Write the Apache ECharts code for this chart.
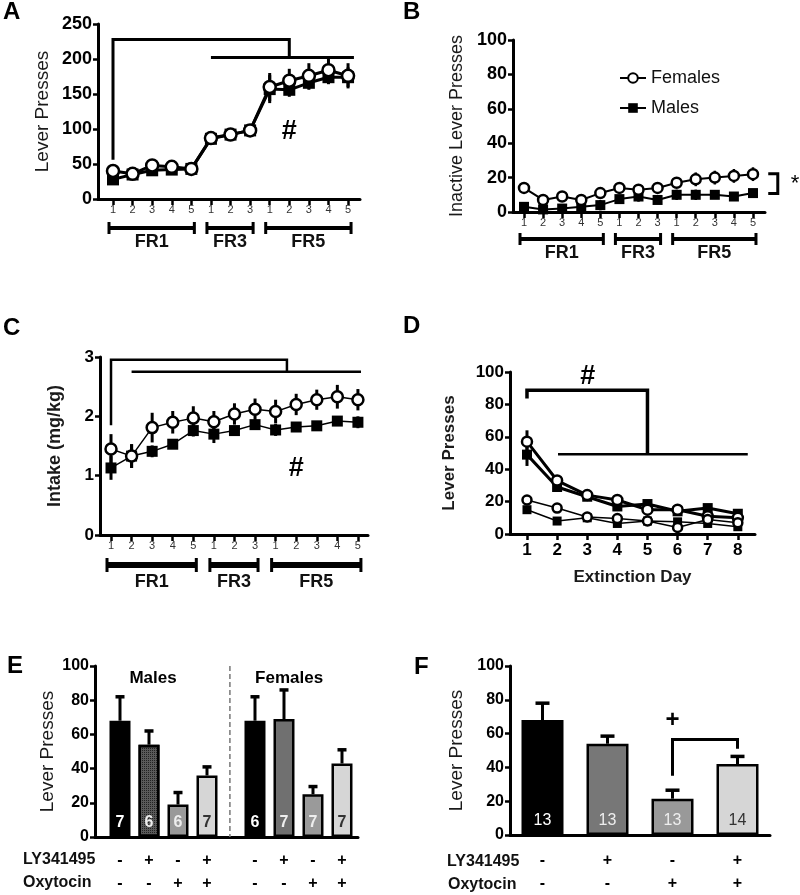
<!DOCTYPE html>
<html>
<head>
<meta charset="utf-8">
<script src="https://cdn.jsdelivr.net/npm/echarts@6/dist/echarts.min.js"></script>
<style>
html, body { margin: 0; padding: 0; background: #fff; }
#main { width: 800px; height: 895px; }
</style>
</head>
<body>
<div id="main"></div>
<script>
var FONT = 'Arial, "Liberation Sans", Helvetica, sans-serif';
var BLACK = '#000';

// sessions of self-administration (A, B, C)
var sessionLabels = ['1', '2', '3', '4', '5', '1', '2', '3', '1', '2', '3', '4', '5'];
var sessions = sessionLabels.map(function (l, i) { return i + 1; });
var schedules = ['FR1', 'FR3', 'FR5'];
var scheduleFrom = [1, 6, 9];
var scheduleTo = [5, 8, 13];

// A: active lever presses
var aFemales = [40, 36, 48, 46, 43, 87, 92, 98, 160, 169, 176, 184, 176];
var aFemalesErr = [6, 4, 9, 5, 4, 8, 7, 8, 20, 17, 18, 16, 18];
var aMales = [28, 35, 41, 42, 43, 86, 92, 98, 157, 156, 166, 174, 174];
var aMalesErr = [5, 4, 5, 5, 4, 8, 7, 8, 20, 10, 10, 10, 14];

// B: inactive lever presses
var bFemales = [14, 7, 9, 7, 11, 14, 13, 14, 17, 19, 20, 21, 22];
var bFemalesErr = [2, 2, 3, 2, 2, 3, 3, 3, 3, 4, 4, 4, 4];
var bMales = [3, 1.5, 2, 3, 4, 7.5, 9, 7, 10, 10, 10, 9, 11];
var bMalesErr = [2, 1.5, 1.5, 2, 3, 2, 3, 2, 3, 3, 2, 2, 2];

// C: intake (mg/kg)
var cFemales = [1.45, 1.33, 1.81, 1.90, 1.97, 1.91, 2.04, 2.12, 2.08, 2.20, 2.28, 2.33, 2.28];
var cFemalesErr = [0.25, 0.2, 0.25, 0.19, 0.2, 0.18, 0.18, 0.18, 0.2, 0.18, 0.17, 0.2, 0.18];
var cMales = [1.13, 1.33, 1.41, 1.53, 1.76, 1.70, 1.76, 1.86, 1.77, 1.82, 1.84, 1.92, 1.90];
var cMalesErr = [0.2, 0.2, 0.1, 0.08, 0.1, 0.15, 0.08, 0.08, 0.1, 0.06, 0.06, 0.08, 0.1];

// D: extinction
var days = [1, 2, 3, 4, 5, 6, 7, 8];
var dFemalesActive = [57, 33, 24, 21, 15, 15, 11, 10];
var dFemalesActiveErr = [7, 3, 2, 2, 2, 2, 2, 2];
var dMalesActive = [49, 29, 23, 17, 18.5, 14, 16, 12.5];
var dMalesActiveErr = [7, 3, 2, 2, 2, 2, 2, 2];
var dFemalesInactive = [21, 16, 10.5, 9.5, 8, 4, 9, 7];
var dFemalesInactiveErr = [2, 2, 1.5, 1.5, 1, 1, 1.5, 1];
var dMalesInactive = [15, 8, 10, 6.5, 8, 7.5, 6.5, 4.5];
var dMalesInactiveErr = [2, 1, 1.5, 1, 1, 1, 1, 1];

// E: reinstatement by sex
var lyRow = ['-', '+', '-', '+'];
var oxyRow = ['-', '-', '+', '+'];
var eMalesMean = [68, 54, 19, 36];
var eMalesErr = [14, 8, 7, 5];
var eMalesN = [7, 6, 6, 7];
var eFemalesMean = [68, 69, 25, 43];
var eFemalesErr = [14, 17, 4.5, 8];
var eFemalesN = [6, 7, 7, 7];

// F: reinstatement, sexes pooled
var fConditions = ['Vehicle', 'LY341495', 'Oxytocin', 'LY341495 + Oxytocin'];
var fMean = [68, 54, 21.5, 42];
var fErr = [10, 4.5, 5, 4.5];
var fN = [13, 13, 13, 14];

// annotations in data units
var aBrackets = [[[1, 56], [1, 228], [10, 228], [10, 202]], [[6, 202], [13.3, 202]]];
var aTexts = [[10, 96, '#']];
var bBrackets = [[[13.8, 22.3], [14.3, 22.3], [14.3, 10.7], [13.8, 10.7]]];
var bTexts = [[15.2, 16.5, '*']];
var cBrackets = [[[1, 1.85], [1, 2.955], [9.55, 2.955], [9.55, 2.75]], [[2, 2.75], [13.15, 2.75]]];
var cTexts = [[10, 1.12, '#']];
var dBrackets = [[[1, 83.6], [1, 88.7], [5, 88.7], [5, 49.3]], [[2.03, 49.3], [8.33, 49.3]]];
var dTexts = [[3.02, 97.3, '#']];
var fBrackets = [[[2, 35], [2, 56.5], [3, 56.5], [3, 51]]];
var fTexts = [[2.47, 67.7, '+']];

var groupGap = 0.655;
var eSlots = eMalesMean.map(function (v, i) { return i; })
  .concat(eFemalesMean.map(function (v, i) { return i + 4 + groupGap; }));
var eDivider = [[[3.79, 100], [3.79, 0]]];
var eTexts = [[1.14, 93, 'Males'], [5.83, 93, 'Females']];

var eColors = ['#000', '#5a5a5a', '#999', '#d6d6d6', '#000', '#707070', '#9a9a9a', '#d6d6d6'];
var eLabelColors = ['#fff', '#eee', '#eee', '#333', '#fff', '#eee', '#eee', '#333'];
var fColors = ['#000', '#777', '#999', '#d6d6d6'];
var fLabelColors = ['#fff', '#eee', '#eee', '#333'];

var chart = echarts.init(document.getElementById('main'));

function yAxisOf(i, max, interval, name, nameGap, nameSize, nameBold, fs) {
  return {
    type: 'value', gridIndex: i, min: 0, max: max, interval: interval,
    name: name, nameLocation: 'middle', nameGap: nameGap,
    nameTextStyle: { fontFamily: FONT, fontSize: nameSize, color: '#1a1a1a', fontWeight: nameBold ? 'bold' : 'normal' },
    axisLine: { show: true, onZero: false, lineStyle: { color: BLACK, width: 3 } },
    axisTick: { show: true, length: 5, lineStyle: { color: BLACK, width: 2.5 } },
    axisLabel: { fontFamily: FONT, fontSize: fs, fontWeight: 'bold', color: BLACK, margin: 6 },
    splitLine: { show: false }
  };
}

function sessionXAxis(i, min, max) {
  return {
    type: 'value', gridIndex: i, min: min, max: max,
    axisLine: { onZero: false, lineStyle: { color: BLACK, width: 3 } },
    axisTick: { customValues: sessions, length: 6, lineStyle: { color: BLACK, width: 2.5 } },
    axisLabel: {
      customValues: sessions, margin: 5, fontFamily: FONT, fontSize: 11, color: '#333',
      formatter: function (v) { return sessionLabels[Math.round(v) - 1]; }
    },
    splitLine: { show: false }
  };
}

function lineSeries(name, i, xs, ys, open, lw, size) {
  return {
    type: 'line', name: name, xAxisIndex: i, yAxisIndex: i,
    data: ys.map(function (v, k) { return [xs[k], v]; }),
    symbol: open ? 'circle' : 'rect', symbolSize: size, showSymbol: true,
    itemStyle: { color: open ? '#fff' : BLACK, borderColor: BLACK, borderWidth: open ? 2.5 : 0 },
    lineStyle: { color: BLACK, width: lw },
    z: open ? 4 : 3
  };
}

function errSeries(i, xs, ys, errs, width, upOnly, cap) {
  return {
    type: 'custom', xAxisIndex: i, yAxisIndex: i, z: 2, silent: true, clip: false,
    data: ys.map(function (v, k) { return [xs[k], v, errs[k]]; }),
    renderItem: function (params, api) {
      var x = api.value(0), y = api.value(1), e = api.value(2);
      var top = api.coord([x, y + e]);
      var bot = api.coord([x, upOnly ? y : y - e]);
      var kids = [{ type: 'line', shape: { x1: top[0], y1: top[1], x2: bot[0], y2: bot[1] }, style: { stroke: BLACK, lineWidth: width } }];
      if (cap) {
        kids.push({ type: 'line', shape: { x1: top[0] - cap / 2, y1: top[1], x2: top[0] + cap / 2, y2: top[1] }, style: { stroke: BLACK, lineWidth: 3.5 } });
      }
      return { type: 'group', children: kids };
    }
  };
}

function pathSeries(i, paths, width, dash, color) {
  return {
    type: 'custom', xAxisIndex: i, yAxisIndex: i, z: 5, silent: true, clip: false,
    data: paths.map(function (p, k) { return [p[0][0], p[0][1], k]; }),
    renderItem: function (params, api) {
      var pts = paths[api.value(2)].map(function (pt) { return api.coord(pt); });
      return {
        type: 'polyline', shape: { points: pts },
        style: { stroke: color || BLACK, lineWidth: width, fill: null, lineDash: dash || null }
      };
    }
  };
}

function textSeries(i, texts, font) {
  return {
    type: 'custom', xAxisIndex: i, yAxisIndex: i, z: 6, silent: true, clip: false,
    data: texts.map(function (t, k) { return [t[0], t[1], k]; }),
    renderItem: function (params, api) {
      var c = api.coord([api.value(0), api.value(1)]);
      return {
        type: 'text', x: c[0], y: c[1],
        style: { text: texts[api.value(2)][2], font: font, fill: BLACK, align: 'center', verticalAlign: 'middle' }
      };
    }
  };
}

function scheduleSeries(i, lineOff, textOff, lw, cap) {
  return {
    type: 'custom', xAxisIndex: i, yAxisIndex: i, silent: true, clip: false,
    data: schedules.map(function (s, k) { return [scheduleFrom[k], 0, scheduleTo[k], k]; }),
    renderItem: function (params, api) {
      var a = api.coord([api.value(0), 0]);
      var b = api.coord([api.value(2), 0]);
      var y = a[1] + lineOff;
      var x1 = a[0] - 4, x2 = b[0] + 3;
      return {
        type: 'group', children: [
          { type: 'line', shape: { x1: x1, y1: y, x2: x2, y2: y }, style: { stroke: BLACK, lineWidth: lw } },
          { type: 'line', shape: { x1: x1, y1: y - cap / 2, x2: x1, y2: y + cap / 2 }, style: { stroke: BLACK, lineWidth: 3 } },
          { type: 'line', shape: { x1: x2, y1: y - cap / 2, x2: x2, y2: y + cap / 2 }, style: { stroke: BLACK, lineWidth: 3 } },
          {
            type: 'text', x: (x1 + x2) / 2, y: a[1] + textOff,
            style: { text: schedules[api.value(3)], font: 'bold 18px ' + FONT, fill: '#111', align: 'center', verticalAlign: 'middle' }
          }
        ]
      };
    }
  };
}

function signRows(k) { return lyRow[k % 4] + '\n' + oxyRow[k % 4]; }

var eBarData = eSlots.map(function (x, k) {
  var v = k < 4 ? eMalesMean[k] : eFemalesMean[k - 4];
  var item = {
    value: [x, v],
    itemStyle: { color: eColors[k], borderColor: BLACK, borderWidth: 2.5 },
    label: { color: eLabelColors[k] }
  };
  if (k === 1) {
    item.itemStyle.decal = { symbol: 'rect', symbolSize: 1, color: '#222', dashArrayX: [1, 1], dashArrayY: [1, 1] };
  }
  return item;
});
var eN = eMalesN.concat(eFemalesN);
var eErr = eMalesErr.concat(eFemalesErr);
var eMean = eMalesMean.concat(eFemalesMean);

var option = {
  animation: false,
  backgroundColor: '#fff',
  grid: [
    { left: 98, top: 24, width: 262, height: 175 },
    { left: 513, top: 40, width: 252, height: 172 },
    { left: 100, top: 357, width: 268, height: 178 },
    { left: 510, top: 372, width: 245, height: 162 },
    { left: 95, top: 666, width: 263, height: 172 },
    { left: 510, top: 666, width: 260, height: 172 }
  ],
  legend: {
    data: ['Females', 'Males'], orient: 'vertical', left: 614, top: 64,
    itemWidth: 26, itemHeight: 12, itemGap: 12, selectedMode: false,
    textStyle: { fontFamily: FONT, fontSize: 18, color: '#111' }
  },
  xAxis: [
    sessionXAxis(0, 0.234, 13.61),
    sessionXAxis(1, 0.423, 13.63),
    sessionXAxis(2, 0.465, 13.49),
    {
      type: 'value', gridIndex: 3, min: 0.436, max: 8.57,
      name: 'Extinction Day', nameLocation: 'middle', nameGap: 35,
      nameTextStyle: { fontFamily: FONT, fontSize: 17, fontWeight: 'bold', color: '#1a1a1a' },
      axisLine: { onZero: false, lineStyle: { color: BLACK, width: 3 } },
      axisTick: { customValues: days, length: 6, lineStyle: { color: BLACK, width: 2.5 } },
      axisLabel: { customValues: days, margin: 8, fontFamily: FONT, fontSize: 17, fontWeight: 'bold', color: BLACK },
      splitLine: { show: false }
    },
    {
      type: 'value', gridIndex: 4, min: -0.862, max: 8.207,
      axisLine: { onZero: false, lineStyle: { color: BLACK, width: 3 } },
      axisTick: { show: false },
      axisLabel: {
        customValues: eSlots, margin: 12, fontFamily: FONT, fontSize: 16, fontWeight: 'bold',
        color: BLACK, lineHeight: 23,
        formatter: function (v) {
          var best = 0;
          eSlots.forEach(function (s, k) { if (Math.abs(s - v) < Math.abs(eSlots[best] - v)) best = k; });
          return signRows(best);
        }
      },
      splitLine: { show: false }
    },
    {
      type: 'category', gridIndex: 5, data: fConditions,
      axisLine: { onZero: false, lineStyle: { color: BLACK, width: 3 } },
      axisTick: { alignWithLabel: true, length: 7, lineStyle: { color: BLACK, width: 2.5 } },
      axisLabel: {
        margin: 14, fontFamily: FONT, fontSize: 16, fontWeight: 'bold', color: BLACK, lineHeight: 23,
        formatter: function (v, k) { return signRows(k); }
      }
    }
  ],
  yAxis: [
    yAxisOf(0, 250, 50, 'Lever Presses', 46, 19, false, 18),
    yAxisOf(1, 100, 20, 'Inactive Lever Presses', 47, 18, false, 18),
    yAxisOf(2, 3, 1, 'Intake (mg/kg)', 36, 18, true, 17),
    yAxisOf(3, 100, 20, 'Lever Presses', 52, 17, true, 17),
    yAxisOf(4, 100, 20, 'Lever Presses', 38, 19, false, 16),
    yAxisOf(5, 100, 20, 'Lever Presses', 44, 19, false, 16)
  ],
  graphic: [
    { type: 'text', left: 3, top: 0, style: { text: 'A', font: 'bold 24px ' + FONT, fill: BLACK } },
    { type: 'text', left: 403, top: 0, style: { text: 'B', font: 'bold 24px ' + FONT, fill: BLACK } },
    { type: 'text', left: 3, top: 316, style: { text: 'C', font: 'bold 24px ' + FONT, fill: BLACK } },
    { type: 'text', left: 403, top: 314, style: { text: 'D', font: 'bold 24px ' + FONT, fill: BLACK } },
    { type: 'text', left: 7, top: 654, style: { text: 'E', font: 'bold 24px ' + FONT, fill: BLACK } },
    { type: 'text', left: 414, top: 655, style: { text: 'F', font: 'bold 24px ' + FONT, fill: BLACK } },
    { type: 'text', x: 23, y: 860, style: { text: 'LY341495', font: 'bold 16px ' + FONT, fill: '#111', verticalAlign: 'middle' } },
    { type: 'text', x: 23, y: 883, style: { text: 'Oxytocin', font: 'bold 16px ' + FONT, fill: '#111', verticalAlign: 'middle' } },
    { type: 'text', x: 447, y: 862, style: { text: 'LY341495', font: 'bold 16px ' + FONT, fill: '#111', verticalAlign: 'middle' } },
    { type: 'text', x: 448, y: 885, style: { text: 'Oxytocin', font: 'bold 16px ' + FONT, fill: '#111', verticalAlign: 'middle' } }
  ],
  series: [
    // B first so the legend takes its icons from it
    lineSeries('Females', 1, sessions, bFemales, true, 2, 10),
    lineSeries('Males', 1, sessions, bMales, false, 2, 10),
    errSeries(1, sessions, bFemales, bFemalesErr, 2.5),
    errSeries(1, sessions, bMales, bMalesErr, 2.5),
    scheduleSeries(1, 27, 41, 4, 12),
    pathSeries(1, bBrackets, 3),
    textSeries(1, bTexts, '22px ' + FONT),

    lineSeries('Females', 0, sessions, aFemales, true, 3, 12),
    lineSeries('Males', 0, sessions, aMales, false, 3, 12),
    errSeries(0, sessions, aFemales, aFemalesErr, 3),
    errSeries(0, sessions, aMales, aMalesErr, 3),
    scheduleSeries(0, 29, 43, 4, 12),
    pathSeries(0, aBrackets, 3),
    textSeries(0, aTexts, 'bold 27px ' + FONT),

    lineSeries('Females', 2, sessions, cFemales, true, 1.5, 11),
    lineSeries('Males', 2, sessions, cMales, false, 1.5, 11),
    errSeries(2, sessions, cFemales, cFemalesErr, 3),
    errSeries(2, sessions, cMales, cMalesErr, 3),
    scheduleSeries(2, 30, 47, 6, 14),
    pathSeries(2, cBrackets, 2.5),
    textSeries(2, cTexts, 'bold 27px ' + FONT),

    lineSeries('Females active', 3, days, dFemalesActive, true, 3, 10),
    lineSeries('Males active', 3, days, dMalesActive, false, 3, 10),
    lineSeries('Females inactive', 3, days, dFemalesInactive, true, 1.5, 9),
    lineSeries('Males inactive', 3, days, dMalesInactive, false, 1.5, 9),
    errSeries(3, days, dFemalesActive, dFemalesActiveErr, 3),
    errSeries(3, days, dMalesActive, dMalesActiveErr, 3),
    errSeries(3, days, dFemalesInactive, dFemalesInactiveErr, 2),
    errSeries(3, days, dMalesInactive, dMalesInactiveErr, 2),
    pathSeries(3, dBrackets.slice(0, 1), 3.5),
    pathSeries(3, dBrackets.slice(1), 2.5),
    textSeries(3, dTexts, 'bold 27px ' + FONT),

    {
      type: 'bar', name: 'E', xAxisIndex: 4, yAxisIndex: 4, barWidth: 21, z: 3,
      data: eBarData,
      label: {
        show: true, position: 'insideBottom', distance: 6, fontFamily: FONT, fontSize: 16, fontWeight: 'bold',
        formatter: function (p) { return String(eN[p.dataIndex]); }
      }
    },
    errSeries(4, eSlots, eMean, eErr, 3, true, 9),
    pathSeries(4, eDivider, 1.5, [5, 3], '#777'),
    textSeries(4, eTexts, 'bold 17px ' + FONT),

    {
      type: 'bar', name: 'F', xAxisIndex: 5, yAxisIndex: 5, barWidth: 42, z: 3,
      data: fMean.map(function (v, k) {
        return { value: v, itemStyle: { color: fColors[k], borderColor: BLACK, borderWidth: 2.5 }, label: { color: fLabelColors[k] } };
      }),
      label: {
        show: true, position: 'insideBottom', distance: 6, fontFamily: FONT, fontSize: 16,
        formatter: function (p) { return String(fN[p.dataIndex]); }
      }
    },
    errSeries(5, fConditions.map(function (c, k) { return k; }), fMean, fErr, 3, true, 14),
    pathSeries(5, fBrackets, 3),
    textSeries(5, fTexts, 'bold 24px ' + FONT)
  ]
};

chart.setOption(option);
</script>
</body>
</html>
